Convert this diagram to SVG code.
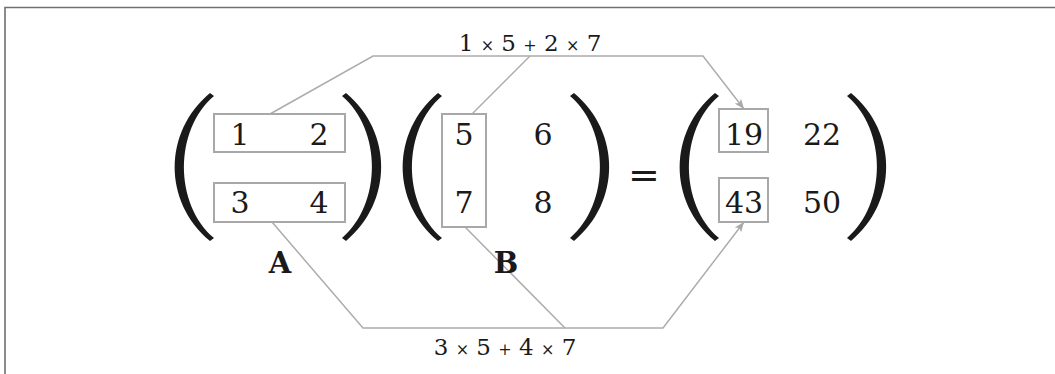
<svg xmlns="http://www.w3.org/2000/svg" width="1055" height="374" viewBox="0 0 1055 374">
<style>
.frame{fill:none;stroke:#707070;stroke-width:1.6}
.paren{fill:#1a1a1a}
.box{fill:none;stroke:#a8a8a8;stroke-width:2}
.conn{fill:none;stroke:#acacac;stroke-width:1.5}
text{font-family:"DejaVu Serif","Liberation Serif",serif;fill:#1a1a1a;text-anchor:middle}
.num{font-size:30px}
.lbl{font-size:29px;font-weight:bold}
.expr{font-size:23px}
.op{font-size:16px}
.eq{font-size:38px;font-weight:300}
</style>
<defs>
<path id="lp" d="M 37,1 C -10,40 -10,110 37,149 L 41,146 C 1,112 1,38 41,4 Z"/>
<marker id="arr" markerUnits="userSpaceOnUse" markerWidth="12" markerHeight="10" refX="10" refY="4" orient="auto" viewBox="0 0 12 8">
<path d="M0,0 L10,4 L0,8 L2.5,4 Z" fill="#a8a8a8"/>
</marker>
</defs>
<path class="frame" d="M5,374 L5,7.5 L1055,7.5"/>
<g id="connectors">
<path class="conn" d="M270,114 L373,56 L703,56 L744,109" marker-end="url(#arr)"/>
<path class="conn" d="M472,114 L530,56"/>
<path class="conn" d="M272,222 L363,328 L663,328 L744,222" marker-end="url(#arr)"/>
<path class="conn" d="M465,227 L565,328"/>
</g>
<g id="matrixA">
<use href="#lp" class="paren" transform="translate(173,92)"/>
<use href="#lp" class="paren" transform="translate(383,92) scale(-1,1)"/>
<rect class="box" x="214" y="114" width="131" height="38"/>
<rect class="box" x="214" y="183" width="131" height="39"/>
<text class="num" x="240" y="145">1</text>
<text class="num" x="319" y="145">2</text>
<text class="num" x="240" y="213">3</text>
<text class="num" x="319" y="213">4</text>
<text class="lbl" x="280" y="273">A</text>
</g>
<g id="matrixB">
<use href="#lp" class="paren" transform="translate(401,92)"/>
<use href="#lp" class="paren" transform="translate(611,92) scale(-1,1)"/>
<rect class="box" x="442" y="114" width="44" height="113"/>
<text class="num" x="464" y="145">5</text>
<text class="num" x="543" y="145">6</text>
<text class="num" x="464" y="213">7</text>
<text class="num" x="543" y="213">8</text>
<text class="lbl" x="506" y="273">B</text>
</g>
<g id="equals">
<text class="eq" x="644" y="188">=</text>
</g>
<g id="matrixC">
<use href="#lp" class="paren" transform="translate(678,92)"/>
<use href="#lp" class="paren" transform="translate(888,92) scale(-1,1)"/>
<rect class="box" x="719" y="109" width="49" height="43"/>
<rect class="box" x="719" y="178" width="49" height="44"/>
<text class="num" x="744" y="145">19</text>
<text class="num" x="822" y="145">22</text>
<text class="num" x="744" y="213">43</text>
<text class="num" x="822" y="213">50</text>
</g>
<g id="label-top">
<text class="expr" x="530" y="51">1 <tspan class="op">×</tspan> 5 <tspan class="op">+</tspan> 2 <tspan class="op">×</tspan> 7</text>
</g>
<g id="label-bottom">
<text class="expr" x="505" y="355">3 <tspan class="op">×</tspan> 5 <tspan class="op">+</tspan> 4 <tspan class="op">×</tspan> 7</text>
</g>
</svg>
